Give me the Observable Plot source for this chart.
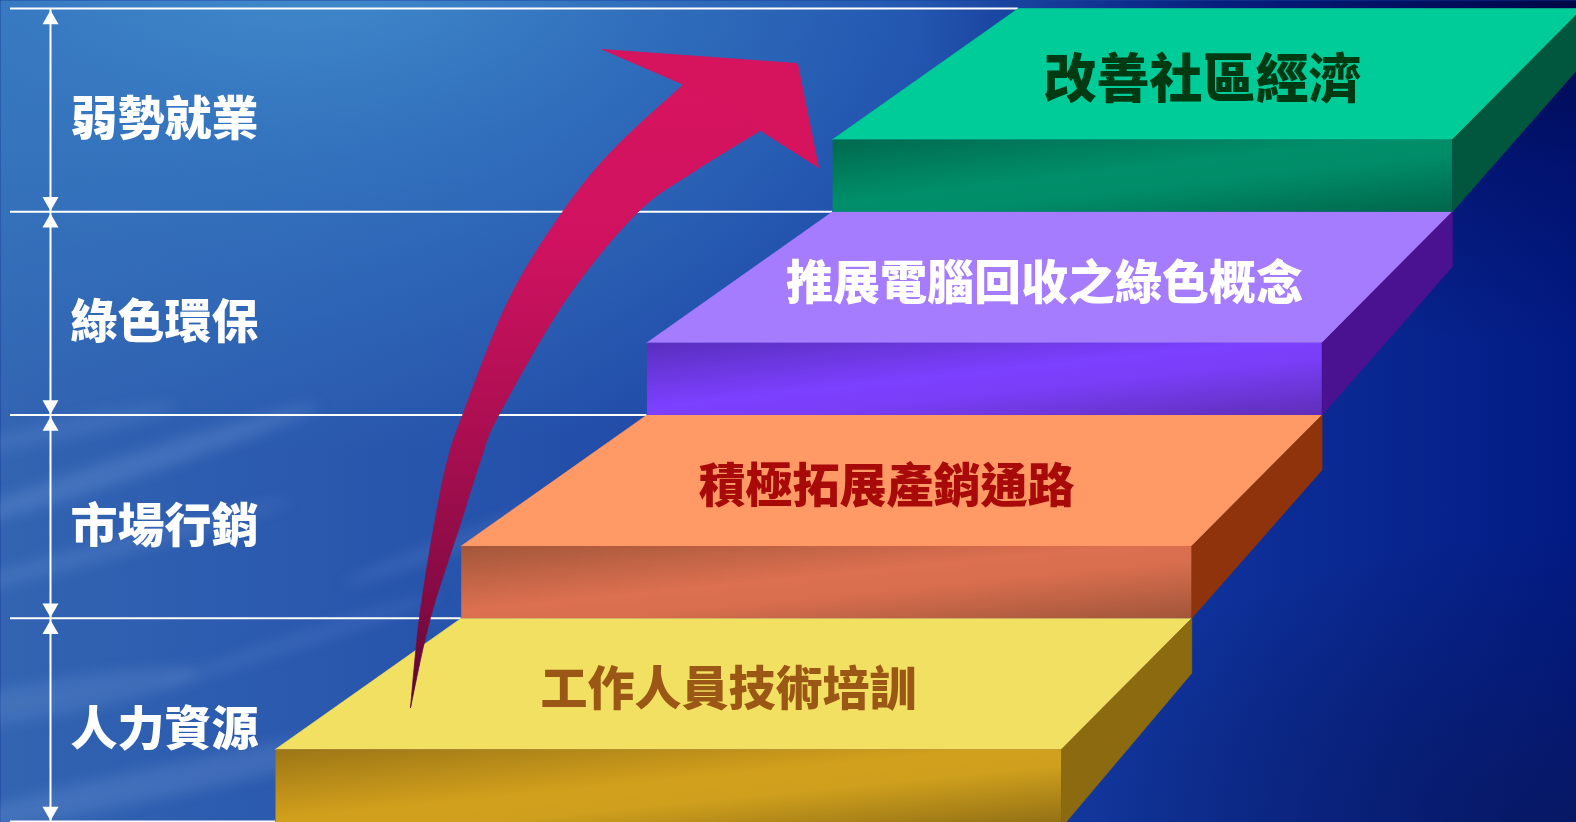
<!DOCTYPE html>
<html><head><meta charset="utf-8">
<script src="https://cdn.jsdelivr.net/npm/d3@7"></script>
<script src="https://cdn.jsdelivr.net/npm/@observablehq/plot@0.6"></script>
<style>html,body{margin:0;padding:0;background:#1a3f9c;overflow:hidden} svg{display:block}</style>
</head><body><div id="chart"></div>
<script>
// ---- data ----
const steps = ["工作人員技術培訓", "積極拓展產銷通路", "推展電腦回收之綠色概念", "改善社區經濟"];
const levels = ["人力資源", "市場行銷", "綠色環保", "弱勢就業"];
const boundaries = [0, 1, 2, 3, 4];

// ---- palette ----
const topColors = ["#F2E062", "#FF9966", "#A67CFF", "#00CC99"];
const sideColors = ["#8C6A10", "#8E330C", "#4A1290", "#00573E"];
const textColors = ["#9A5716", "#A80A0A", "#FFFFFF", "#003A12"];
const frontStops = [
  ["#9C7616", "#D2A01C", "#CFA01D", "#8E6C14"],
  ["#A4563A", "#DC7050", "#D86E4E", "#A2553A"],
  ["#5A2EBE", "#7C40FF", "#7A3EF8", "#5E2EB8"],
  ["#006A4E", "#008F6A", "#008C68", "#00664A"]
];
const textSizes = [47, 47, 47, 53];

// ---- geometry ----
const W = 1576, H = 822;
const FL = i => 275 + 185.7 * i;   // front-left edge of step i
const FR = i => 1061 + 130.3 * i;  // front-right edge of step i
const FH = 0.355, SH = 0.27;       // front height, side back height (level units)
const lv = py => (821 - py) / 203.25;
const base = i => i - (i === 0 ? 0.03 : 0);

const P = (x, y) => ({x, y});
const topPts = i => [P(FL(i), i + FH), P(FL(i + 1), i + 1), P(FR(i + 1), i + 1), P(FR(i), i + FH), P(FL(i), i + FH)];
const frontPts = i => [P(FL(i), base(i)), P(FL(i), i + FH), P(FR(i), i + FH), P(FR(i), base(i)), P(FL(i), base(i))];
const sidePts = i => [P(FR(i), i + FH), P(FR(i + 1), i + 1), P(FR(i + 1), i + 1 - SH), P(FR(i), base(i)), P(FR(i), i + FH)];

// curved arrow outline (px); each edge smoothed separately so the corners stay sharp
const outer = [[410,707],[419,617],[434,523],[447,460],[462,415],[508,300],[561,213],[612,150],[683,84]];
const inner = [[760,130],[692,172],[636,213],[565,300],[498,415],[480,460],[460,523],[430,617],[410,707]];
const head = [[602,49],[797,63],[818,167],[760,130],[683,84],[602,49]];
function smooth(pts, n = 12) {
  const out = [];
  for (let i = 0; i < pts.length - 1; i++) {
    const p0 = pts[Math.max(i - 1, 0)], p1 = pts[i], p2 = pts[i + 1], p3 = pts[Math.min(i + 2, pts.length - 1)];
    for (let k = 0; k < n; k++) {
      const t = k / n, t2 = t * t, t3 = t2 * t;
      out.push([0, 1].map(j => 0.5 * (2 * p1[j] + (-p0[j] + p2[j]) * t +
        (2 * p0[j] - 5 * p1[j] + 4 * p2[j] - p3[j]) * t2 + (-p0[j] + 3 * p1[j] - 3 * p2[j] + p3[j]) * t3)));
    }
  }
  out.push(pts[pts.length - 1]);
  return out;
}
const shaftPts = smooth(outer).concat(smooth(inner)).map(([x, y]) => P(x, lv(y)));
const headPts = head.map(([x, y]) => P(x, lv(y)));

const clouds = [
  [120, 470, 210, 12, -18, 0.18], [70, 560, 230, 9, -15, 0.14], [170, 780, 280, 16, -12, 0.16],
  [520, 520, 190, 9, -20, 0.12], [620, 470, 120, 7, -25, 0.10], [40, 700, 160, 18, -10, 0.14],
  [300, 640, 150, 8, -18, 0.10], [60, 430, 120, 10, -12, 0.12]
];

const font = "'Noto Sans CJK TC','Noto Sans CJK SC',sans-serif";

const cloudMark = () => {
  const g = d3.create("svg:g").attr("filter", "url(#blur)");
  for (const [cx, cy, rx, ry, rot, op] of clouds) {
    g.append("ellipse").attr("cx", cx).attr("cy", cy).attr("rx", rx).attr("ry", ry)
      .attr("transform", `rotate(${rot} ${cx} ${cy})`).attr("fill", "#A8C8F4").attr("fill-opacity", op);
  }
  return g.node();
};

const marks = [
  Plot.frame({fill: "url(#bg1)", stroke: "none"}),
  Plot.frame({fill: "url(#bg2)", stroke: "none"}),
  Plot.frame({fill: "url(#bg3)", stroke: "none"}),
  Plot.frame({fill: "url(#bg4)", stroke: "none"}),
  cloudMark,
  Plot.ruleY(boundaries, {y: d => d, x1: () => 10, x2: d => FL(d), stroke: "white", strokeWidth: 2}),
  Plot.ruleX([50], {x: d => d, y1: () => 0, y2: () => 4, stroke: "white", strokeWidth: 2}),
  Plot.dot(levels, {x: () => 50, y: (d, i) => i + 1, symbol: "triangle", r: 5.95, fill: "white", dy: 11}),
  Plot.dot(levels, {x: () => 50, y: (d, i) => i, symbol: "triangle", r: 5.95, fill: "white", rotate: 180, dy: -10}),
  Plot.text(levels, {x: () => 70, y: (d, i) => i + 0.5, text: d => d, textAnchor: "start", fill: "white",
    fontSize: 47, fontWeight: 900, fontFamily: font, dy: 10})
];

steps.forEach((s, i) => {
  marks.push(Plot.line(topPts(i), {x: "x", y: "y", fill: topColors[i], stroke: topColors[i], strokeWidth: 0.6}));
  marks.push(Plot.line(frontPts(i), {x: "x", y: "y", fill: `url(#front${i})`, stroke: "none"}));
  marks.push(Plot.line(sidePts(i), {x: "x", y: "y", fill: sideColors[i], stroke: sideColors[i], strokeWidth: 0.6}));
  const cx = (FL(i) + FL(i + 1) + FR(i) + FR(i + 1)) / 4 - 19;
  marks.push(Plot.text([s], {x: () => cx, y: () => i + 0.66, text: d => d, fill: textColors[i],
    fontSize: textSizes[i], fontWeight: 900, fontFamily: font, dy: 3}));
});

marks.push(Plot.line(shaftPts, {x: "x", y: "y", fill: "url(#arrowGrad)", stroke: "url(#arrowGrad)", strokeWidth: 0.8}));
marks.push(Plot.line(headPts, {x: "x", y: "y", fill: "#D6145E", stroke: "#D6145E", strokeWidth: 0.8}));

const svg = Plot.plot({
  width: W, height: H, margin: 0,
  x: {domain: [0, W], range: [0, W], axis: null},
  y: {domain: [0, 4], range: [821, 8], axis: null},
  style: {background: "transparent"},
  marks
});

const frontDefs = frontStops.map((st, i) => `
  <linearGradient id="front${i}" x1="0" y1="0" x2="1" y2="1">
    <stop offset="0" stop-color="${st[0]}"/><stop offset="0.45" stop-color="${st[1]}"/>
    <stop offset="0.6" stop-color="${st[2]}"/><stop offset="1" stop-color="${st[3]}"/>
  </linearGradient>`).join("");

d3.select(svg).insert("defs", ":first-child").html(`
  <linearGradient id="bg1" x1="0" y1="0" x2="1" y2="0">
    <stop offset="0" stop-color="#3264B2"/><stop offset="0.35" stop-color="#2450AA"/>
    <stop offset="0.7" stop-color="#1238A0"/><stop offset="1" stop-color="#021A84"/>
  </linearGradient>
  <radialGradient id="bg2" cx="0.2" cy="-0.05" r="0.6">
    <stop offset="0" stop-color="#4896D2" stop-opacity="0.85"/>
    <stop offset="0.4" stop-color="#3A86CA" stop-opacity="0.55"/>
    <stop offset="1" stop-color="#3A86CA" stop-opacity="0"/>
  </radialGradient>
  <radialGradient id="bg3" cx="1" cy="0" r="0.42">
    <stop offset="0" stop-color="#000640" stop-opacity="0.95"/>
    <stop offset="0.5" stop-color="#000C60" stop-opacity="0.55"/>
    <stop offset="1" stop-color="#000C60" stop-opacity="0"/>
  </radialGradient>
  <radialGradient id="bg4" cx="1" cy="1" r="0.35">
    <stop offset="0" stop-color="#081656" stop-opacity="0.7"/>
    <stop offset="1" stop-color="#081656" stop-opacity="0"/>
  </radialGradient>
  <linearGradient id="arrowGrad" gradientUnits="userSpaceOnUse" x1="0" y1="49" x2="0" y2="707">
    <stop offset="0" stop-color="#D8145E"/><stop offset="0.3" stop-color="#CF1260"/>
    <stop offset="0.6" stop-color="#A80E50"/><stop offset="0.85" stop-color="#820A42"/>
    <stop offset="1" stop-color="#560830"/>
  </linearGradient>
  <filter id="blur" x="-20%" y="-200%" width="140%" height="500%"><feGaussianBlur stdDeviation="7"/></filter>
  ${frontDefs}
`);

document.getElementById("chart").appendChild(svg);
</script>
</body></html>
